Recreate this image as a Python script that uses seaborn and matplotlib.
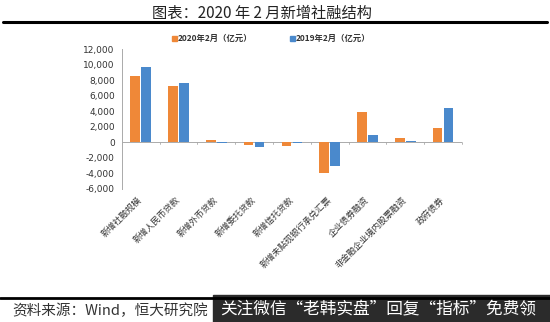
import matplotlib
matplotlib.use("Agg")
import matplotlib.pyplot as plt
import seaborn as sns
import pandas as pd
from matplotlib.lines import Line2D
from matplotlib.patches import Rectangle

categories = ["新增社融规模", "新增人民币贷款", "新增外币贷款", "新增委托贷款", "新增信托贷款",
              "新增未贴现银行承兑汇票", "企业债券融资", "非金融企业境内股票融资", "政府债券"]
values_2020 = [8554, 7202, 300, -343, -468, -3953, 3933, 600, 1880]
values_2019 = [9737, 7641, -60, -580, -30, -3103, 940, 200, 4460]
series_names = ["2020年2月（亿元）", "2019年2月（亿元）"]
yticks = [-6000, -4000, -2000, 0, 2000, 4000, 6000, 8000, 10000, 12000]

sns.set_theme(style="white")
plt.rcParams['font.family'] = ['Noto Sans CJK SC', 'DejaVu Sans']
plt.rcParams['axes.unicode_minus'] = False

df = pd.DataFrame({
    "cat": categories * 2,
    "val": values_2020 + values_2019,
    "series": [series_names[0]] * len(categories) + [series_names[1]] * len(categories),
})

fig = plt.figure(figsize=(5.5, 3.22), dpi=100)
ax = fig.add_axes([0.2213, 0.4137, 0.6187, 0.4333])
sns.barplot(data=df, x="cat", y="val", hue="series", order=categories,
            hue_order=series_names, palette=["#EF8838", "#4A89CC"], saturation=1,
            width=0.58, gap=0.12, ax=ax, legend=False, edgecolor="none")

ax.set_ylim(-6000, 12000)
ax.set_xlim(-0.5, len(categories) - 0.5)
ax.set_yticks(yticks)
ax.set_yticklabels([f"{v:,}" for v in yticks], fontsize=6.5, color="#333333",
                   family=['DejaVu Sans'])
ax.set_xticks(range(len(categories)))
ax.set_xticklabels(categories, rotation=45, ha="right", va="center", rotation_mode="anchor",
                   fontsize=6.3, color="#333333")
ax.tick_params(axis="x", length=0, pad=7)
ax.tick_params(axis="y", length=3, color="#999999", width=0.6, pad=2)
ax.set_xlabel("")
ax.set_ylabel("")
for s in ["top", "right", "bottom"]:
    ax.spines[s].set_visible(False)
ax.spines["left"].set_color("#aaaaaa")
ax.spines["left"].set_linewidth(0.7)
ax.axhline(0, color="#aaaaaa", lw=0.7, zorder=0)
for b in range(len(categories) + 1):
    ax.plot([b - 0.5, b - 0.5], [0, -250], color="#aaaaaa", lw=0.6, clip_on=False)

# title and rule
fig.text(262 / 550, 1 - 13 / 322, "图表：2020 年 2 月新增社融结构", ha="center", va="center",
         fontsize=11, color="#222222")
fig.add_artist(Line2D([0.005, 0.995], [1 - 22 / 322, 1 - 22 / 322], color="black", lw=2.2))

# legend
ly = 1 - 38 / 322
fig.add_artist(Rectangle((172 / 550, ly - 0.009), 5 / 550, 5 / 322, color="#EF8838"))
fig.text(178 / 550, ly, series_names[0], fontsize=6, fontweight="bold", va="center", color="#333333")
fig.add_artist(Rectangle((290 / 550, ly - 0.009), 5 / 550, 5 / 322, color="#4A89CC"))
fig.text(296 / 550, ly, series_names[1], fontsize=6, fontweight="bold", va="center", color="#333333")

# bottom rule, source
fig.add_artist(Line2D([0.0, 1.0], [1 - 298 / 322, 1 - 298 / 322], color="black", lw=2.0))
fig.text(12 / 550, 1 - 311 / 322, "资料来源：Wind，恒大研究院", fontsize=10.5, style="italic",
         va="center", color="#333333")

# watermark banner
fig.add_artist(Rectangle((213 / 550, 0), 337 / 550, 27 / 322, color="#2b2b2b"))
fig.text(220 / 550, 1 - 310 / 322, "关注微信“老韩实盘”回复“指标”免费领", fontsize=12,
         va="center", color="white")

fig.savefig("out.png", dpi=100)
